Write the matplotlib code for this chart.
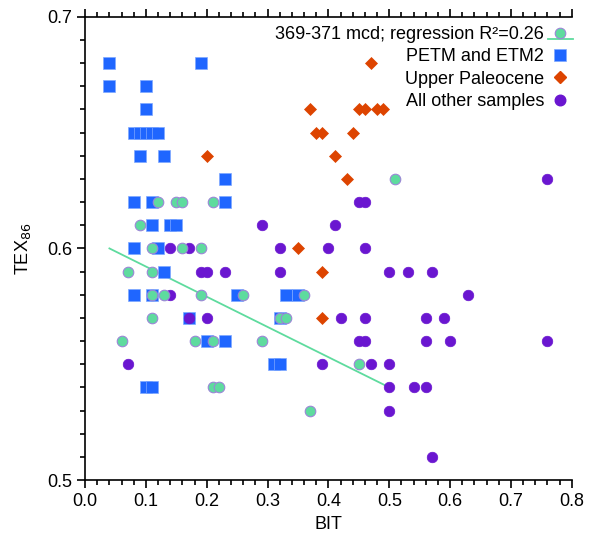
import numpy as np
from matplotlib import pyplot as plt
from matplotlib.lines import Line2D
from matplotlib.legend_handler import HandlerBase
from matplotlib.ticker import MultipleLocator

plt.rcParams['font.family'] = ['Liberation Sans', 'DejaVu Sans']

# 369-371 mcd samples (green circles)
core_bit = [0.51, 0.12, 0.15, 0.16, 0.21, 0.09, 0.11, 0.16, 0.19, 0.07, 0.11,
            0.11, 0.13, 0.19, 0.26, 0.36, 0.11, 0.32, 0.33, 0.06, 0.18, 0.21,
            0.29, 0.45, 0.21, 0.22, 0.37]
core_tex = [0.63, 0.62, 0.62, 0.62, 0.62, 0.61, 0.60, 0.60, 0.60, 0.59, 0.59,
            0.58, 0.58, 0.58, 0.58, 0.58, 0.57, 0.57, 0.57, 0.56, 0.56, 0.56,
            0.56, 0.55, 0.54, 0.54, 0.53]

# regression line for the 369-371 mcd samples
fit_bit = [0.04, 0.50]
fit_tex = [0.600, 0.540]

# PETM and ETM2 (blue squares)
petm_bit = [0.04, 0.19, 0.04, 0.10, 0.10, 0.08, 0.09, 0.10, 0.11, 0.12, 0.09,
            0.13, 0.23, 0.08, 0.11, 0.23, 0.11, 0.14, 0.15, 0.08, 0.12, 0.13,
            0.08, 0.11, 0.25, 0.33, 0.35, 0.17, 0.32, 0.20, 0.23, 0.31, 0.32,
            0.10, 0.11]
petm_tex = [0.68, 0.68, 0.67, 0.67, 0.66, 0.65, 0.65, 0.65, 0.65, 0.65, 0.64,
            0.64, 0.63, 0.62, 0.62, 0.62, 0.61, 0.61, 0.61, 0.60, 0.60, 0.59,
            0.58, 0.58, 0.58, 0.58, 0.58, 0.57, 0.57, 0.56, 0.56, 0.55, 0.55,
            0.54, 0.54]

# Upper Paleocene (orange diamonds)
pal_bit = [0.47, 0.37, 0.45, 0.46, 0.48, 0.49, 0.38, 0.39, 0.44, 0.20, 0.41,
           0.43, 0.35, 0.39, 0.39]
pal_tex = [0.68, 0.66, 0.66, 0.66, 0.66, 0.66, 0.65, 0.65, 0.65, 0.64, 0.64,
           0.63, 0.60, 0.59, 0.57]

# all other samples (purple circles)
oth_bit = [0.76, 0.45, 0.46, 0.29, 0.41, 0.14, 0.17, 0.32, 0.40, 0.46, 0.19,
           0.20, 0.23, 0.32, 0.50, 0.53, 0.57, 0.14, 0.63, 0.17, 0.20, 0.42,
           0.46, 0.56, 0.59, 0.45, 0.46, 0.56, 0.60, 0.76, 0.07, 0.39, 0.47,
           0.50, 0.50, 0.54, 0.56, 0.50, 0.57]
oth_tex = [0.63, 0.62, 0.62, 0.61, 0.61, 0.60, 0.60, 0.60, 0.60, 0.60, 0.59,
           0.59, 0.59, 0.59, 0.59, 0.59, 0.59, 0.58, 0.58, 0.57, 0.57, 0.57,
           0.57, 0.57, 0.57, 0.56, 0.56, 0.56, 0.56, 0.56, 0.55, 0.55, 0.55,
           0.55, 0.54, 0.54, 0.54, 0.53, 0.51]

GREEN = '#5edb9e'
GREEN_EDGE = '#9a86d6'
BLUE = '#1f66ff'
ORANGE = '#dd4400'
PURPLE = '#6a16d0'

fig = plt.figure(figsize=(5.95, 5.43), dpi=100)
ax = fig.add_axes([0.143, 0.116, 0.818, 0.853])

ax.plot(fit_bit, fit_tex, color=GREEN, lw=1.3, zorder=2)
ax.plot(petm_bit, petm_tex, ls='', marker='s', ms=8, mfc=BLUE, mec='#7fa8ff', mew=0.5, zorder=3)
ax.plot(oth_bit, oth_tex, ls='', marker='o', ms=7.6, mfc=PURPLE, mec=PURPLE, mew=0.5, zorder=4)
ax.plot(pal_bit, pal_tex, ls='', marker='D', ms=6, mfc=ORANGE, mec=ORANGE, mew=0.5, zorder=4)
ax.plot(core_bit, core_tex, ls='', marker='o', ms=7.6, mfc=GREEN, mec=GREEN_EDGE, mew=0.8, zorder=5)

ax.set_xlim(0, 0.8)
ax.set_ylim(0.5, 0.7)
ax.xaxis.set_major_locator(MultipleLocator(0.1))
ax.xaxis.set_minor_locator(MultipleLocator(0.02))
ax.yaxis.set_major_locator(MultipleLocator(0.1))
ax.yaxis.set_minor_locator(MultipleLocator(0.01))
ax.xaxis.set_major_formatter(lambda v, p: f"{v:.1f}")
ax.yaxis.set_major_formatter(lambda v, p: f"{v:.1f}")

ax.spines['right'].set_visible(False)
for s in ['left', 'bottom', 'top']:
    ax.spines[s].set_linewidth(1.2)
ax.tick_params(which='both', direction='out', top=True, right=False, width=1.2, labelsize=13)
ax.tick_params(which='major', length=6)
ax.tick_params(which='minor', length=3.5)

ax.set_xlabel('BIT', fontsize=13)
ax.set_ylabel('TEX$_{86}$', fontsize=13, labelpad=10)


class RegHandler(HandlerBase):
    def create_artists(self, legend, orig_handle, xdescent, ydescent, width, height, fontsize, trans):
        x0, x1 = -xdescent, width - xdescent
        yc = height / 2 - ydescent
        ln = Line2D([x0 - 4, x1 + 4], [yc - 0.55 * height] * 2, color=GREEN, lw=1.3, transform=trans)
        dot = Line2D([(x0 + x1) / 2], [yc], ls='', marker='o', ms=7.6, mfc=GREEN,
                     mec=GREEN_EDGE, mew=0.8, transform=trans)
        return [ln, dot]


h_core = Line2D([], [], color=GREEN)
h_petm = Line2D([], [], ls='', marker='s', ms=8, mfc=BLUE, mec='#7fa8ff', mew=0.5)
h_pal = Line2D([], [], ls='', marker='D', ms=6, mfc=ORANGE, mec=ORANGE)
h_oth = Line2D([], [], ls='', marker='o', ms=7.6, mfc=PURPLE, mec=PURPLE)

leg = ax.legend([h_core, h_petm, h_pal, h_oth],
                ['369-371 mcd; regression R²=0.26', 'PETM and ETM2', 'Upper Paleocene', 'All other samples'],
                handler_map={h_core: RegHandler()},
                loc='upper right', bbox_to_anchor=(1.01, 1.0), frameon=False, markerfirst=False,
                fontsize=13, handlelength=0.8, handletextpad=0.5, labelspacing=0.3,
                borderaxespad=0.1)
for t in leg.get_texts():
    t.set_ha('right')

fig.savefig('out.png', dpi=100)
